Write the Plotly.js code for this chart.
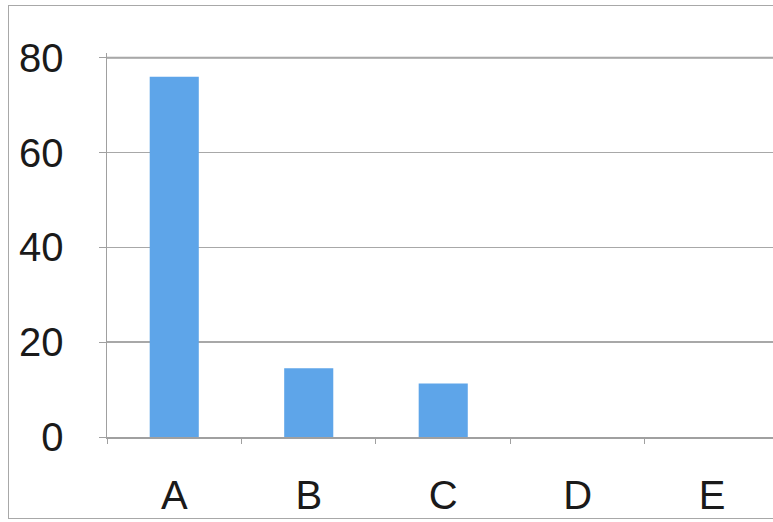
<!DOCTYPE html>
<html>
<head>
<meta charset="utf-8">
<script src="https://cdn.plot.ly/plotly-3.0.1.min.js"></script>
<style>
  html, body { margin:0; padding:0; background:#fff; overflow:hidden; }
  #chart { position:absolute; left:0; top:0; width:773px; height:522px; }
  #frame { position:absolute; left:8px; top:5px; width:800px; height:512px;
           border:1.5px solid #a8a8a8; pointer-events:none; }
</style>
</head>
<body>
<div id="chart"></div>
<div id="frame"></div>
<script>
const categories = ['A', 'B', 'C', 'D', 'E'];
const values = [76, 14.5, 11.3, 0, 0];
const yTicks = [0, 20, 40, 60, 80];

const trace = {
  type: 'bar',
  x: categories,
  y: values,
  width: 0.365,
  marker: { color: '#5ea5e9' },
  hoverinfo: 'x+y'
};

const topTick = yTicks[yTicks.length - 1];

const layout = {
  width: 773,
  height: 522,
  margin: { l: 107, r: 0, t: 53, b: 85 },
  paper_bgcolor: '#ffffff',
  plot_bgcolor: '#ffffff',
  showlegend: false,
  font: { family: 'Liberation Sans, Arial, sans-serif', color: '#1a1a1a' },
  shapes: [{
    type: 'line', xref: 'paper', yref: 'y',
    x0: 0, x1: 1, y0: topTick, y1: topTick,
    line: { color: '#a0a0a0', width: 2 },
    layer: 'below'
  }],
  xaxis: {
    type: 'category',
    range: [-0.5, 4.452],
    showgrid: false,
    showline: true,
    linecolor: '#a0a0a0',
    linewidth: 1.5,
    ticks: 'outside',
    tickson: 'boundaries',
    ticklen: 5,
    tickcolor: '#a0a0a0',
    tickfont: { size: 40, color: '#1a1a1a' },
    ticklabelstandoff: 22,
    zeroline: false,
    fixedrange: true
  },
  yaxis: {
    range: [0, 81],
    tickvals: yTicks,
    ticktext: yTicks.map(String),
    showgrid: true,
    gridcolor: '#a8a8a8',
    gridwidth: 1.5,
    showline: true,
    linecolor: '#a0a0a0',
    linewidth: 1.5,
    ticks: 'outside',
    ticklen: 7,
    tickcolor: '#a0a0a0',
    tickfont: { size: 40, color: '#1a1a1a' },
    ticklabelstandoff: 27,
    zeroline: false,
    fixedrange: true
  }
};

Plotly.newPlot('chart', [trace], layout, { displayModeBar: false, staticPlot: true });
</script>
</body>
</html>
